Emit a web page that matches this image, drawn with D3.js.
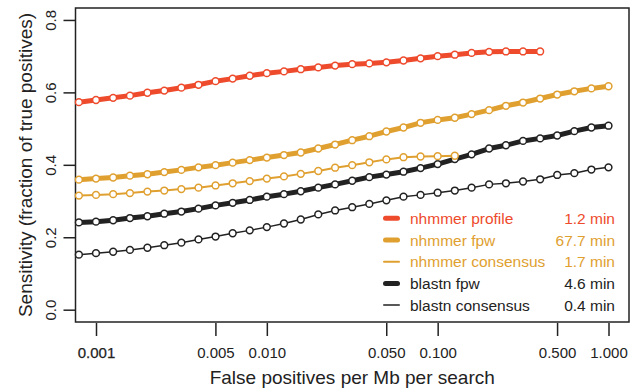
<!DOCTYPE html>
<html>
<head>
<meta charset="utf-8">
<script src="https://cdn.jsdelivr.net/npm/d3@7"></script>
<style>
  body { margin: 0; background: #fff; }
  svg { display: block; font-family: "Liberation Sans", Arial, Helvetica, sans-serif; }
</style>
</head>
<body>
<svg id="chart" width="638" height="390"></svg>
<script>
// false positives per Mb per search (x grid of every series)
const fpRate = [0.000794, 0.001, 0.00126, 0.00158, 0.002, 0.00251, 0.00316, 0.00398,
  0.00501, 0.00631, 0.00794, 0.01, 0.0126, 0.0158, 0.02, 0.0251, 0.0316, 0.0398,
  0.0501, 0.0631, 0.0794, 0.1, 0.126, 0.158, 0.2, 0.251, 0.316, 0.398, 0.501,
  0.631, 0.794, 1.0];

// sensitivity per method
const nhmmerProfile = [0.573, 0.579, 0.585, 0.591, 0.599, 0.605, 0.613, 0.621, 0.631,
  0.638, 0.646, 0.653, 0.658, 0.664, 0.669, 0.674, 0.678, 0.680, 0.683, 0.688,
  0.694, 0.700, 0.704, 0.709, 0.712, 0.713, 0.713, 0.713];
const nhmmerFpw = [0.359, 0.362, 0.365, 0.370, 0.374, 0.380, 0.386, 0.393, 0.399,
  0.406, 0.413, 0.420, 0.427, 0.434, 0.445, 0.456, 0.468, 0.479, 0.492, 0.503,
  0.516, 0.524, 0.530, 0.540, 0.551, 0.563, 0.572, 0.583, 0.594, 0.603, 0.611, 0.617];
const nhmmerConsensus = [0.315, 0.317, 0.319, 0.322, 0.326, 0.329, 0.333, 0.337, 0.343,
  0.349, 0.355, 0.362, 0.368, 0.375, 0.383, 0.392, 0.399, 0.407, 0.415, 0.421,
  0.423, 0.424, 0.425];
const blastnFpw = [0.241, 0.243, 0.247, 0.253, 0.258, 0.265, 0.271, 0.279, 0.288,
  0.295, 0.303, 0.312, 0.319, 0.327, 0.337, 0.346, 0.356, 0.366, 0.373, 0.381,
  0.391, 0.402, 0.416, 0.429, 0.445, 0.454, 0.466, 0.473, 0.481, 0.493, 0.503, 0.508];
const blastnConsensus = [0.152, 0.156, 0.160, 0.165, 0.171, 0.178, 0.185, 0.194, 0.202,
  0.211, 0.219, 0.228, 0.238, 0.249, 0.263, 0.274, 0.283, 0.292, 0.302, 0.312,
  0.317, 0.323, 0.329, 0.337, 0.346, 0.349, 0.354, 0.360, 0.372, 0.377, 0.387, 0.393];

const seriesNames = ["nhmmer profile", "nhmmer fpw", "nhmmer consensus", "blastn fpw", "blastn consensus"];
const runTimes = ["1.2 min", "67.7 min", "1.7 min", "4.6 min", "0.4 min"];

const xTicks = [0.001, 0.005, 0.01, 0.05, 0.1, 0.5, 1];
const yTicks = [0, 0.2, 0.4, 0.6, 0.8];

const RED = "#ee4a2c", GOLD = "#e0a030", INK = "#222";

const series = [
  { name: seriesNames[0], time: runTimes[0], values: nhmmerProfile, color: RED, width: 5 },
  { name: seriesNames[1], time: runTimes[1], values: nhmmerFpw, color: GOLD, width: 5 },
  { name: seriesNames[2], time: runTimes[2], values: nhmmerConsensus, color: GOLD, width: 2 },
  { name: seriesNames[3], time: runTimes[3], values: blastnFpw, color: INK, width: 5 },
  { name: seriesNames[4], time: runTimes[4], values: blastnConsensus, color: INK, width: 1.5 }
];

const svg = d3.select("#chart");
const box = { left: 75.5, right: 629, top: 8, bottom: 322 };

const x = d3.scaleLog()
  .domain([Math.pow(10, -3.12), Math.pow(10, 0.12)])
  .range([box.left, box.right]);
const y = d3.scaleLinear()
  .domain([-0.034, 0.833])
  .range([box.bottom, box.top]);

// x axis
const xAxis = svg.append("g")
  .attr("transform", `translate(0,${box.bottom + 1})`)
  .call(d3.axisBottom(x).tickValues(xTicks).tickFormat(d3.format(".3f")).tickSize(13).tickPadding(11));
xAxis.select(".domain").remove();
xAxis.selectAll("line").attr("stroke", INK).attr("stroke-width", 1.5);
xAxis.selectAll("text").attr("fill", INK).style("font-size", "15px").style("font-family", "inherit");
// the first label looks overprinted (a bit heavier) in the original
xAxis.selectAll("text").filter(d => d === 0.001)
  .attr("stroke", INK).attr("stroke-width", 0.25);

// y axis
const yAxis = svg.append("g")
  .attr("transform", `translate(${box.left},0)`)
  .call(d3.axisLeft(y).tickValues(yTicks).tickFormat(d3.format(".1f")).tickSize(12));
yAxis.select(".domain").remove();
yAxis.selectAll("line").attr("stroke", INK).attr("stroke-width", 1.5);
yAxis.selectAll("text")
  .attr("x", null).attr("dy", null)
  .attr("text-anchor", "middle")
  .attr("transform", "translate(-20,0) rotate(-90)")
  .attr("fill", INK).style("font-size", "15px").style("font-family", "inherit");

// axis titles
svg.append("text")
  .attr("x", (box.left + box.right) / 2).attr("y", 384)
  .attr("text-anchor", "middle")
  .style("font-size", "19px").attr("fill", INK)
  .text("False positives per Mb per search");
svg.append("text")
  .attr("transform", `translate(32,${(box.top + box.bottom) / 2}) rotate(-90)`)
  .attr("text-anchor", "middle")
  .style("font-size", "19px").attr("fill", INK)
  .text("Sensitivity (fraction of true positives)");

// plot frame
svg.append("rect")
  .attr("x", box.left).attr("y", box.top)
  .attr("width", box.right - box.left).attr("height", box.bottom - box.top)
  .attr("fill", "none").attr("stroke", INK).attr("stroke-width", 1.5);

// lines + points, black drawn first so nhmmer sits on top
const plot = svg.append("g");
const line = d3.line().x((d, i) => x(fpRate[i])).y(d => y(d));
series.slice().reverse().forEach(s => {
  const g = plot.append("g");
  g.append("path")
    .attr("d", line(s.values))
    .attr("fill", "none")
    .attr("stroke", s.color)
    .attr("stroke-width", s.width)
    .attr("stroke-linejoin", "round")
    .attr("stroke-linecap", "round");
  g.selectAll("circle")
    .data(s.values)
    .enter().append("circle")
    .attr("cx", (d, i) => x(fpRate[i]))
    .attr("cy", d => y(d))
    .attr("r", 3.4)
    .attr("fill", "#fff")
    .attr("stroke", s.color)
    .attr("stroke-width", 1.5);
});

// legend
const legend = svg.append("g");
series.forEach((s, i) => {
  const ly = 218.3 + i * 21.7;
  legend.append("line")
    .attr("x1", 383 + s.width / 2).attr("x2", 400 - s.width / 2)
    .attr("y1", ly).attr("y2", ly)
    .attr("stroke", s.color).attr("stroke-width", s.width)
    .attr("stroke-linecap", "round");
  legend.append("text")
    .attr("x", 410).attr("y", ly + 5.5)
    .style("font-size", "15.5px").attr("fill", s.color)
    .text(s.name);
  legend.append("text")
    .attr("x", 615).attr("y", ly + 5.5)
    .attr("text-anchor", "end")
    .style("font-size", "15.5px").attr("fill", s.color)
    .text(s.time);
});
</script>
</body>
</html>
